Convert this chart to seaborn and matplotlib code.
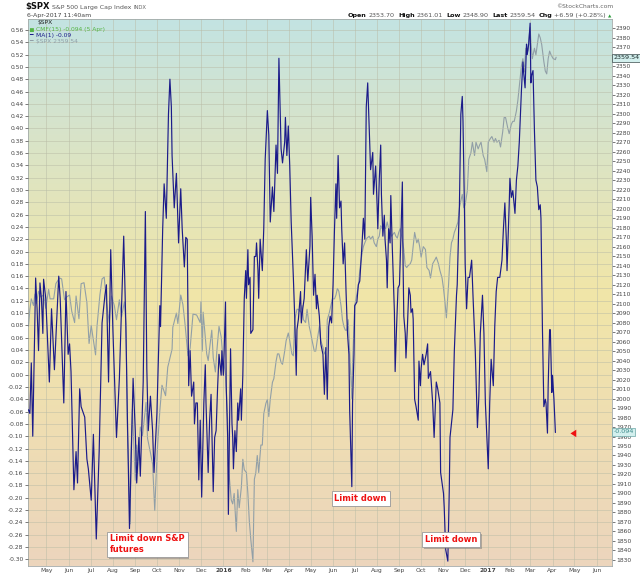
import numpy as np
import pandas as pd
import matplotlib
matplotlib.use("Agg")
import matplotlib.pyplot as plt
import seaborn as sns
import matplotlib.patheffects as pe
from matplotlib.colors import LinearSegmentedColormap

# ---------------- data ----------------
cmf_dates = [
 "2015-04-06","2015-04-08","2015-04-10","2015-04-12","2015-04-16","2015-04-18","2015-04-20","2015-04-22",
 "2015-04-24","2015-04-26","2015-04-27","2015-04-30","2015-05-05","2015-05-08","2015-05-12","2015-05-18",
 "2015-05-20","2015-05-25","2015-05-28","2015-05-31","2015-06-02","2015-06-04","2015-06-08","2015-06-11",
 "2015-06-13","2015-06-16","2015-06-18","2015-06-23","2015-06-26","2015-06-28","2015-07-02","2015-07-05",
 "2015-07-09","2015-07-13","2015-07-17","2015-07-21","2015-07-23","2015-07-26","2015-07-29","2015-08-01",
 "2015-08-06","2015-08-10","2015-08-16","2015-08-19","2015-08-21","2015-08-24","2015-08-29","2015-09-01",
 "2015-09-03","2015-09-06","2015-09-08","2015-09-12","2015-09-15","2015-09-17","2015-09-19","2015-09-22",
 "2015-09-25","2015-09-27","2015-10-01","2015-10-05","2015-10-06","2015-10-09","2015-10-11","2015-10-14",
 "2015-10-17","2015-10-19","2015-10-21","2015-10-22","2015-10-25","2015-10-28","2015-10-31","2015-11-03",
 "2015-11-05","2015-11-08","2015-11-10","2015-11-12","2015-11-14","2015-11-16","2015-11-18","2015-11-21",
 "2015-11-22","2015-11-24","2015-11-26","2015-11-28","2015-11-30","2015-12-02","2015-12-05","2015-12-07",
 "2015-12-08","2015-12-11","2015-12-13","2015-12-15","2015-12-18","2015-12-20","2015-12-22","2015-12-24",
 "2015-12-26","2015-12-29","2015-12-30","2016-01-01","2016-01-02","2016-01-04","2016-01-05","2016-01-07",
 "2016-01-08","2016-01-11","2016-01-13","2016-01-14","2016-01-15","2016-01-17","2016-01-19","2016-01-21",
 "2016-01-22","2016-01-25","2016-01-26","2016-01-28","2016-01-30","2016-02-01","2016-02-02","2016-02-04",
 "2016-02-05","2016-02-07","2016-02-08","2016-02-11","2016-02-13","2016-02-15","2016-02-16","2016-02-18",
 "2016-02-19","2016-02-21","2016-02-24","2016-02-26","2016-02-28","2016-03-02","2016-03-04","2016-03-06",
 "2016-03-09","2016-03-11","2016-03-14","2016-03-16","2016-03-18","2016-03-21","2016-03-23","2016-03-26",
 "2016-03-27","2016-03-29","2016-03-31","2016-04-02","2016-04-04","2016-04-07","2016-04-09","2016-04-11",
 "2016-04-12","2016-04-14","2016-04-17","2016-04-18","2016-04-20","2016-04-22","2016-04-24","2016-04-25",
 "2016-04-27","2016-04-30","2016-05-01","2016-05-03","2016-05-05","2016-05-07","2016-05-09","2016-05-10",
 "2016-05-13","2016-05-15","2016-05-18","2016-05-20","2016-05-22","2016-05-24","2016-05-26","2016-05-28",
 "2016-05-30","2016-06-01","2016-06-03","2016-06-05","2016-06-06","2016-06-08","2016-06-10","2016-06-12",
 "2016-06-13","2016-06-15","2016-06-17","2016-06-19","2016-06-21","2016-06-23","2016-06-24","2016-06-27",
 "2016-06-28","2016-06-30","2016-07-01","2016-07-04","2016-07-06","2016-07-08","2016-07-11","2016-07-13",
 "2016-07-15","2016-07-17","2016-07-19","2016-07-21","2016-07-23","2016-07-26","2016-07-27","2016-07-30",
 "2016-08-01","2016-08-02","2016-08-04","2016-08-06","2016-08-07","2016-08-09","2016-08-11","2016-08-12",
 "2016-08-14","2016-08-15","2016-08-17","2016-08-19","2016-08-20","2016-08-22","2016-08-25","2016-08-26",
 "2016-08-28","2016-08-30","2016-09-01","2016-09-03","2016-09-05","2016-09-06","2016-09-07","2016-09-09",
 "2016-09-10","2016-09-12","2016-09-14","2016-09-16","2016-09-17","2016-09-19","2016-09-20","2016-09-22",
 "2016-09-24","2016-09-27","2016-09-28","2016-09-30","2016-10-01","2016-10-03","2016-10-05","2016-10-08",
 "2016-10-10","2016-10-11","2016-10-14","2016-10-17","2016-10-19","2016-10-22","2016-10-24","2016-10-27",
 "2016-10-28","2016-11-01","2016-11-02","2016-11-04","2016-11-07","2016-11-09","2016-11-10","2016-11-12",
 "2016-11-14","2016-11-16","2016-11-19","2016-11-20","2016-11-22","2016-11-23","2016-11-25","2016-11-27",
 "2016-11-28","2016-11-30","2016-12-01","2016-12-03","2016-12-05","2016-12-07","2016-12-10","2016-12-12",
 "2016-12-15","2016-12-18","2016-12-20","2016-12-22","2016-12-25","2016-12-27","2016-12-29","2017-01-02",
 "2017-01-04","2017-01-06","2017-01-09","2017-01-11","2017-01-13","2017-01-15","2017-01-18","2017-01-21",
 "2017-01-23","2017-01-25","2017-01-27","2017-01-28","2017-01-31","2017-02-01","2017-02-03","2017-02-05",
 "2017-02-08","2017-02-10","2017-02-12","2017-02-14","2017-02-15","2017-02-17","2017-02-19","2017-02-20",
 "2017-02-22","2017-02-24","2017-02-25","2017-02-27","2017-03-01","2017-03-02","2017-03-03","2017-03-05",
 "2017-03-07","2017-03-09","2017-03-11","2017-03-13","2017-03-15","2017-03-16","2017-03-18","2017-03-20",
 "2017-03-22","2017-03-23","2017-03-25","2017-03-26","2017-03-28","2017-03-29","2017-03-31","2017-04-01",
 "2017-04-03","2017-04-05"]
cmf_values = [
 -0.057,-0.063,0.019,-0.100,0.157,0.107,0.039,0.149,
 0.124,0.067,0.155,0.124,-0.012,0.107,0.008,0.160,
 0.124,-0.046,0.135,0.033,0.050,0.005,-0.187,-0.125,
 -0.176,-0.023,-0.052,-0.069,-0.137,-0.153,-0.204,-0.097,
 -0.267,-0.125,0.084,0.129,0.146,-0.012,0.203,0.073,
 -0.102,-0.006,0.225,0.078,-0.063,-0.250,-0.006,-0.091,
 -0.176,-0.102,-0.165,-0.012,0.265,0.010,-0.091,-0.035,
 -0.091,-0.159,-0.063,0.112,0.078,0.237,0.310,0.254,
 0.423,0.480,0.435,0.356,0.271,0.327,0.214,0.302,
 0.237,0.175,0.223,0.220,-0.018,0.039,-0.035,-0.012,
 -0.080,-0.046,-0.046,-0.171,-0.074,-0.199,-0.046,0.016,
 -0.046,-0.159,-0.074,-0.032,-0.190,-0.102,-0.091,-0.023,
 0.033,-0.001,0.039,-0.001,0.033,0.118,-0.018,-0.102,
 -0.227,0.042,-0.080,-0.102,-0.153,-0.091,-0.125,-0.046,
 -0.074,-0.023,-0.074,-0.001,0.124,0.169,0.124,0.203,
 0.146,0.158,0.067,0.073,0.192,0.192,0.214,0.169,
 0.124,0.220,0.169,0.237,0.350,0.429,0.389,0.248,
 0.305,0.265,0.373,0.327,0.514,0.367,0.344,0.378,
 0.418,0.356,0.404,0.339,0.248,0.158,0.090,-0.001,
 0.073,0.090,0.135,0.084,0.107,0.124,0.175,0.203,
 0.152,0.209,0.288,0.225,0.129,0.163,0.107,0.129,
 0.095,0.050,0.033,-0.032,0.044,-0.040,0.078,0.095,
 0.084,0.146,0.237,0.310,0.254,0.356,0.271,0.282,
 0.237,0.180,0.214,0.135,0.067,0.033,-0.057,-0.182,
 -0.046,0.033,0.112,0.118,0.146,0.152,0.209,0.254,
 0.220,0.435,0.474,0.401,0.333,0.361,0.293,0.339,
 0.276,0.237,0.316,0.373,0.293,0.225,0.259,0.220,
 0.186,0.141,0.237,0.214,0.291,0.209,0.101,0.005,
 0.078,0.141,0.146,0.225,0.313,0.180,0.095,0.067,
 0.027,0.078,0.141,0.129,0.101,0.107,0.090,-0.040,
 -0.052,-0.074,0.022,-0.018,0.010,0.033,0.016,0.033,
 0.050,-0.006,0.005,-0.046,-0.102,-0.012,-0.023,-0.046,
 -0.159,-0.193,-0.216,-0.284,-0.303,-0.187,-0.102,-0.080,
 -0.057,0.039,0.129,0.146,0.237,0.271,0.423,0.452,
 0.412,0.271,0.180,0.107,0.158,0.158,0.186,0.124,
 0.039,-0.086,-0.035,0.067,0.129,0.067,-0.046,-0.153,
 -0.046,0.025,-0.018,0.078,0.135,0.158,0.158,0.186,
 0.237,0.279,0.220,0.169,0.276,0.319,0.288,0.299,
 0.262,0.316,0.339,0.378,0.406,0.463,0.508,0.491,
 0.466,0.537,0.520,0.537,0.571,0.474,0.486,0.494,
 0.395,0.316,0.305,0.268,0.276,0.254,0.078,-0.052,
 -0.040,-0.046,-0.095,-0.018,0.073,0.073,-0.029,-0.001,
 -0.040,-0.094]

spx_dates = [
 "2015-04-06","2015-04-08","2015-04-10","2015-04-13","2015-04-15","2015-04-17","2015-04-20","2015-04-23",
 "2015-04-27","2015-04-30","2015-05-04","2015-05-06","2015-05-11","2015-05-14","2015-05-19","2015-05-22",
 "2015-05-26","2015-05-29","2015-06-02","2015-06-05","2015-06-09","2015-06-11","2015-06-15","2015-06-18",
 "2015-06-22","2015-06-26","2015-06-29","2015-07-02","2015-07-08","2015-07-10","2015-07-14","2015-07-17",
 "2015-07-20","2015-07-23","2015-07-27","2015-07-30","2015-08-03","2015-08-06","2015-08-10","2015-08-13",
 "2015-08-17","2015-08-19","2015-08-20","2015-08-21","2015-08-24","2015-08-25","2015-08-26","2015-08-28",
 "2015-09-01","2015-09-03","2015-09-04","2015-09-08","2015-09-11","2015-09-16","2015-09-18","2015-09-22",
 "2015-09-25","2015-09-28","2015-09-30","2015-10-02","2015-10-05","2015-10-08","2015-10-13","2015-10-16",
 "2015-10-22","2015-10-23","2015-10-28","2015-10-30","2015-11-03","2015-11-06","2015-11-09","2015-11-13",
 "2015-11-16","2015-11-20","2015-11-25","2015-11-30","2015-12-01","2015-12-03","2015-12-04","2015-12-09",
 "2015-12-11","2015-12-16","2015-12-18","2015-12-21","2015-12-23","2015-12-26","2015-12-29","2015-12-31",
 "2016-01-04","2016-01-05","2016-01-07","2016-01-08","2016-01-12","2016-01-14","2016-01-16","2016-01-19",
 "2016-01-21","2016-01-23","2016-01-26","2016-01-28","2016-01-30","2016-02-02","2016-02-04","2016-02-06",
 "2016-02-08","2016-02-11","2016-02-13","2016-02-15","2016-02-17","2016-02-19","2016-02-22","2016-02-24",
 "2016-02-26","2016-02-29","2016-03-02","2016-03-04","2016-03-06","2016-03-09","2016-03-11","2016-03-14",
 "2016-03-16","2016-03-18","2016-03-21","2016-03-23","2016-03-26","2016-03-28","2016-03-31","2016-04-02",
 "2016-04-05","2016-04-07","2016-04-09","2016-04-12","2016-04-14","2016-04-17","2016-04-19","2016-04-21",
 "2016-04-24","2016-04-26","2016-04-29","2016-05-01","2016-05-03","2016-05-06","2016-05-08","2016-05-10",
 "2016-05-13","2016-05-15","2016-05-18","2016-05-20","2016-05-23","2016-05-24","2016-05-27","2016-05-29",
 "2016-05-31","2016-06-03","2016-06-05","2016-06-07","2016-06-09","2016-06-12","2016-06-14","2016-06-16",
 "2016-06-18","2016-06-20","2016-06-22","2016-06-24","2016-06-27","2016-06-28","2016-07-01","2016-07-04",
 "2016-07-06","2016-07-08","2016-07-11","2016-07-13","2016-07-16","2016-07-18","2016-07-21","2016-07-23",
 "2016-07-26","2016-07-28","2016-07-31","2016-08-02","2016-08-04","2016-08-06","2016-08-08","2016-08-10",
 "2016-08-13","2016-08-15","2016-08-17","2016-08-19","2016-08-21","2016-08-23","2016-08-25","2016-08-27",
 "2016-08-29","2016-08-31","2016-09-02","2016-09-04","2016-09-07","2016-09-09","2016-09-11","2016-09-13",
 "2016-09-16","2016-09-18","2016-09-20","2016-09-22","2016-09-25","2016-09-27","2016-09-29","2016-10-01",
 "2016-10-04","2016-10-07","2016-10-09","2016-10-12","2016-10-14","2016-10-17","2016-10-20","2016-10-22",
 "2016-10-25","2016-10-27","2016-10-30","2016-11-01","2016-11-03","2016-11-05","2016-11-08","2016-11-10",
 "2016-11-12","2016-11-14","2016-11-16","2016-11-18","2016-11-21","2016-11-23","2016-11-25","2016-11-27",
 "2016-11-29","2016-12-01","2016-12-04","2016-12-06","2016-12-09","2016-12-11","2016-12-14","2016-12-16",
 "2016-12-19","2016-12-21","2016-12-23","2016-12-26","2016-12-28","2016-12-31","2017-01-02","2017-01-05",
 "2017-01-07","2017-01-10","2017-01-12","2017-01-14","2017-01-17","2017-01-19","2017-01-22","2017-01-24",
 "2017-01-26","2017-01-29","2017-01-31","2017-02-03","2017-02-05","2017-02-07","2017-02-10","2017-02-12",
 "2017-02-14","2017-02-17","2017-02-19","2017-02-21","2017-02-23","2017-02-26","2017-02-27","2017-03-01",
 "2017-03-02","2017-03-04","2017-03-07","2017-03-09","2017-03-11","2017-03-13","2017-03-15","2017-03-17",
 "2017-03-20","2017-03-22","2017-03-24","2017-03-26","2017-03-28","2017-03-30","2017-04-02","2017-04-05",
 "2017-04-06"]
spx_values = [
 2076,2094,2105,2098,2110,2100,2113,2107,
 2109,2095,2115,2105,2105,2121,2127,2126,
 2104,2107,2109,2092,2080,2108,2084,2121,
 2122,2101,2058,2077,2046,2076,2109,2126,
 2128,2102,2080,2108,2098,2083,2104,2086,
 2102,2079,2035,1971,1893,1868,1940,1989,
 1914,1951,1921,1970,1961,1996,1958,1943,
 1931,1882,1920,1951,1987,2014,2003,2033,
 2052,2075,2090,2079,2109,2099,2078,2045,
 2053,2089,2088,2080,2102,2050,2091,2047,
 2040,2072,2043,2028,2050,2076,2065,2047,
 2025,2010,1977,1929,1893,1889,1900,1860,
 1904,1885,1907,1936,1925,1922,1900,1871,
 1852,1828,1915,1922,1940,1922,1951,1951,
 1984,1995,1999,1981,1999,2017,2021,2039,
 2047,2047,2038,2036,2050,2061,2069,2061,
 2047,2045,2083,2094,2094,2091,2098,2083,
 2080,2094,2076,2069,2061,2050,2050,2061,
 2076,2061,2054,2047,2052,2083,2091,2098,
 2105,2105,2109,2116,2113,2098,2083,2076,
 2072,2072,2083,2050,2000,2036,2098,2110,
 2118,2135,2152,2160,2166,2169,2171,2168,
 2171,2164,2160,2168,2171,2182,2179,2182,
 2179,2186,2179,2175,2171,2173,2175,2171,
 2169,2175,2179,2171,2157,2140,2138,2140,
 2142,2146,2160,2175,2164,2168,2160,2149,
 2160,2157,2138,2135,2127,2142,2146,2149,
 2142,2135,2127,2116,2102,2085,2120,2149,
 2164,2168,2175,2179,2186,2201,2208,2215,
 2201,2204,2219,2252,2259,2270,2256,2270,
 2263,2267,2270,2256,2252,2239,2270,2274,
 2276,2270,2274,2270,2272,2265,2281,2296,
 2296,2285,2279,2289,2292,2292,2303,2314,
 2329,2351,2358,2344,2369,2366,2377,2391,
 2377,2358,2369,2362,2373,2384,2380,2373,
 2355,2345,2342,2358,2366,2362,2358,2357,
 2359.54]

cmf_ticks = np.round(np.arange(-0.30, 0.5601, 0.02), 2)
spx_ticks = np.arange(1830, 2391, 10)
month_ticks = pd.date_range("2015-05-01", "2017-06-01", freq="MS")

# ---------------- figure ----------------
sns.set_style("white")
plt.rcParams["font.family"] = ["DejaVu Sans"]
W, H = 640, 576
fig = plt.figure(figsize=(W / 100, H / 100), dpi=100)
fig.patch.set_facecolor("white")

ax = fig.add_axes([27.7 / W, 10.3 / H, 584 / W, 546.7 / H])   # price axis (right ticks)
ax2 = ax.twinx()                                               # CMF axis (left ticks)

# background gradient
cmap = LinearSegmentedColormap.from_list(
    "sc", [(0.0, "#ecd5bd"), (0.5, "#f1e6a8"), (0.78, "#d9e4c8"), (1.0, "#c3e3e2")])
grad = np.linspace(0, 1, 256).reshape(-1, 1)
ax.imshow(grad, extent=[0, 1, 0, 1], transform=ax.transAxes, origin="lower",
          aspect="auto", cmap=cmap, zorder=-10)

df_spx = pd.DataFrame({"date": pd.to_datetime(spx_dates), "spx": spx_values})
df_cmf = pd.DataFrame({"date": pd.to_datetime(cmf_dates), "cmf": cmf_values})

sns.lineplot(data=df_spx, x="date", y="spx", ax=ax, color="#919fa7", lw=0.8,
             estimator=None, zorder=3)
sns.lineplot(data=df_cmf, x="date", y="cmf", ax=ax2, color="#1b1b8a", lw=0.85,
             estimator=None, zorder=4)

ax.set_xlim(pd.Timestamp("2015-04-05"), pd.Timestamp("2017-06-22"))
ax.set_ylim(1823.9, 2399.8)
ax2.set_ylim(-0.3104, 0.5778)

for a in (ax, ax2):
    a.set_xlabel("")
    a.set_ylabel("")

ax.yaxis.tick_right()
ax2.yaxis.tick_left()
ax.set_yticks(spx_ticks)
# the 2360 label sits under the current-price tag, as in the reference
ax.set_yticklabels(["" if v == 2360 else str(v) for v in spx_ticks])
ax2.set_yticks(cmf_ticks)
ax2.set_yticklabels(["%.2f" % v for v in cmf_ticks])

ax.set_xticks(month_ticks)
ax.set_xticklabels([str(d.year) if d.month == 1 else d.strftime("%b") for d in month_ticks])
for lab, d in zip(ax.get_xticklabels(), month_ticks):
    if d.month == 1:
        lab.set_fontweight("bold")
        lab.set_color("#111111")

ax.tick_params(axis="y", which="both", right=True, left=False, labelright=True, labelleft=False,
               length=2, width=0.5, pad=1, labelsize=4.3, colors="#444444")
ax2.tick_params(axis="y", which="both", left=True, right=False, labelleft=True, labelright=False,
                length=2, width=0.5, pad=1, labelsize=4.3, colors="#444444")
ax.tick_params(axis="x", length=0, pad=2, labelsize=4.3, colors="#444444")
ax2.tick_params(axis="x", bottom=False, top=False, labelbottom=False)

grid_kw = dict(color="#b9bca6", lw=0.5, alpha=0.7)
ax.set_axisbelow(True)
ax.xaxis.grid(True, **grid_kw)
ax.yaxis.grid(False)
ax2.set_axisbelow(True)
ax2.yaxis.grid(True, **grid_kw)
ax2.xaxis.grid(False)

for s in ax.spines.values():
    s.set_color("#a3aaa8")
    s.set_linewidth(0.6)
for s in ax2.spines.values():
    s.set_visible(False)

# red arrow pointing at the last reading
ax2.annotate("", xy=(pd.Timestamp("2017-04-22"), -0.0955),
             xytext=(pd.Timestamp("2017-05-07"), -0.0955),
             arrowprops=dict(arrowstyle="simple,head_length=0.7,head_width=0.9,tail_width=0.4",
                             color="#ee1111", lw=0, mutation_scale=6), zorder=6)

# ---------------- texts ----------------
def fx(px):
    return px / W

def fy(py):
    return 1 - py / H

renderer = fig.canvas.get_renderer()

def runs(x, y, parts, ha="left"):
    arts = []
    total = 0
    for s, size, weight, color, gap in parts:
        t = fig.text(0, 0, s, fontsize=size, fontweight=weight, color=color, va="baseline", ha="left")
        w = t.get_window_extent(renderer).width
        arts.append((t, w, gap))
        total += w + gap
    x0 = x - total if ha == "right" else x
    for t, w, gap in arts:
        t.set_position((fx(x0), fy(y)))
        x0 += w + gap

runs(25, 9.2, [("$SPX", 6.0, "bold", "#111111", 2.5),
               ("S&P 500 Large Cap Index", 4.5, "normal", "#555555", 2.5),
               ("INDX", 3.8, "normal", "#666666", 0)])
fig.text(fx(27), fy(17.5), "6-Apr-2017 11:40am", fontsize=4.5, color="#444444", va="baseline")
fig.text(fx(613), fy(8), "\u00a9StockCharts.com", fontsize=4.3, color="#666666", va="baseline", ha="right")
fs = 4.6
runs(611, 17.3, [("Open", fs, "bold", "#111111", 1.8), ("2353.70", fs, "normal", "#555555", 3.5),
                 ("High", fs, "bold", "#111111", 1.8), ("2361.01", fs, "normal", "#555555", 3.5),
                 ("Low", fs, "bold", "#111111", 1.8), ("2348.90", fs, "normal", "#555555", 3.5),
                 ("Last", fs, "bold", "#111111", 1.8), ("2359.54", fs, "normal", "#555555", 3.5),
                 ("Chg", fs, "bold", "#111111", 1.8), ("+6.59 (+0.28%)", fs, "normal", "#555555", 1.5),
                 ("\u25b2", 3.2, "normal", "#2a9d3a", 0)], ha="right")

# in-plot legend
fig.text(fx(38), fy(22.7), "$SPX", fontsize=4.3, color="#222222", va="center")
fig.text(fx(29.5), fy(29.7), "\u2586", fontsize=3.6, color="#55b545", va="center")
fig.text(fx(36), fy(29.7), "CMF(15) -0.094 (5 Apr)", fontsize=4.3, color="#55b545", va="center")
fig.text(fx(29.5), fy(35.7), "\u2501", fontsize=4.3, color="#1b1b8a", va="center")
fig.text(fx(36), fy(35.7), "MA(1) -0.09", fontsize=4.3, color="#1b1b8a", va="center")
fig.text(fx(29.5), fy(41.7), "\u2501", fontsize=4.3, color="#919fa7", va="center")
fig.text(fx(36), fy(41.7), "$SPX 2359.54", fontsize=4.3, color="#919fa7", va="center")

# value tags on the right edge
tag_kw = dict(boxstyle="square,pad=0.25", facecolor="#d3f0ee", edgecolor="#3a4a4a", lw=0.5)
fig.text(fx(613.5), fy(57.7), "2359.54", fontsize=4.6, color="#1a2a2a", va="center", ha="left",
         bbox=tag_kw, zorder=10)
fig.text(fx(613.5), fy(431.7), "-0.094", fontsize=4.6, color="#3d8a8a", va="center", ha="left",
         bbox=dict(tag_kw, edgecolor="#6aa6a6"), zorder=10)

# annotation boxes
box_kw = dict(boxstyle="square,pad=0.35", facecolor="white", edgecolor="#9a9a9a", lw=0.6)
def note(px, py, s):
    t = fig.text(fx(px), fy(py), s, fontsize=6, fontweight="bold", color="#ee1111",
                 va="center", ha="left", linespacing=1.25, bbox=box_kw, zorder=9)
    t.get_bbox_patch().set_path_effects([pe.SimplePatchShadow(offset=(1.2, -1.2), shadow_rgbFace="#777777", alpha=0.5),
                                         pe.Normal()])

note(110, 544.3, "Limit down S&P\nfutures")
note(334.5, 498.2, "Limit down")
note(425, 539.5, "Limit down")

fig.savefig("out.png", dpi=100, facecolor="white")
